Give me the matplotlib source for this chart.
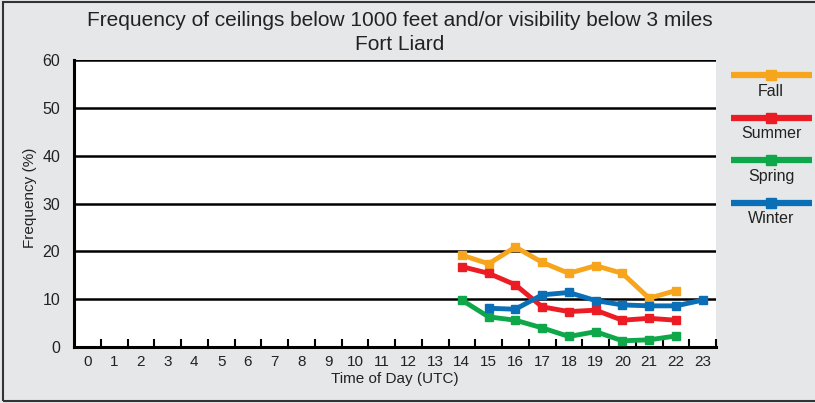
import numpy as np
import matplotlib.pyplot as plt
from matplotlib.patches import Rectangle
from matplotlib.lines import Line2D

hours = list(range(24))
hours_main = list(range(14, 23))
fall = [19.2, 17.4, 20.9, 17.7, 15.4, 17.0, 15.4, 10.2, 11.8]
summer = [16.8, 15.4, 13.0, 8.4, 7.4, 7.7, 5.6, 6.0, 5.6]
spring = [9.8, 6.3, 5.6, 4.0, 2.2, 3.2, 1.3, 1.5, 2.3]
hours_winter = list(range(15, 24))
winter = [8.1, 7.9, 10.9, 11.4, 9.7, 8.8, 8.6, 8.6, 9.8]

series = [
    ("Fall", hours_main, fall, "#f7a51c"),
    ("Summer", hours_main, summer, "#ec1c24"),
    ("Spring", hours_main, spring, "#0ea84a"),
    ("Winter", hours_winter, winter, "#0b6fb8"),
]

plt.rcParams['font.family'] = ['Liberation Sans', 'DejaVu Sans']

W, H = 815, 403
fig = plt.figure(figsize=(W / 100, H / 100), dpi=100)
fig.patch.set_facecolor("#e6e7e8")
fig.patches.append(Rectangle((3 / W, 1 - 401 / H), 1, 399 / H, transform=fig.transFigure,
                             fill=False, edgecolor="#333333", lw=1.5))

ax = fig.add_axes([74 / W, 1 - 347 / H, (716 - 74) / W, (347 - 60) / H])
ax.set_facecolor("white")

for name, xs, ys, col in series:
    ax.plot(xs, ys, color=col, lw=3.5, marker="s", ms=6, solid_joinstyle="miter", zorder=3)

ax.set_xlim(-0.5, 23.5)
ax.set_ylim(0, 60)
ax.set_yticks(range(0, 61, 10))
for v in range(10, 61, 10):
    ax.axhline(v, color="black", lw=1.8, zorder=1)
ax.set_xticks(np.arange(0.5, 24, 1.0))
ax.set_xticklabels([])
ax.set_xticks(hours, minor=True)
ax.set_xticklabels([str(h) for h in hours], minor=True, fontsize=11, color="#222222")
ax.tick_params(axis="x", which="major", direction="in", length=6, width=1.5, color="black")
ax.tick_params(axis="x", which="minor", length=0, pad=6)
ax.tick_params(axis="y", length=0, labelsize=11.5, labelcolor="#222222", pad=10)
for s in ["top", "right"]:
    ax.spines[s].set_visible(False)
for s in ["left", "bottom"]:
    ax.spines[s].set_linewidth(2.2)
ax.set_xlabel("Time of Day (UTC)", fontsize=11, color="#222222", labelpad=2)
ax.set_ylabel("Frequency (%)", fontsize=11, color="#222222")
ax.yaxis.set_label_coords(-0.057, 0.52)

fig.text(400 / W, 1 - 20 / H, "Frequency of ceilings below 1000 feet and/or visibility below 3 miles",
         ha="center", va="center", fontsize=15, color="#222222")
fig.text(400 / W, 1 - 45 / H, "Fort Liard", ha="center", va="center", fontsize=15, color="#222222")

# legend on the right
for i, (name, xs, ys, col) in enumerate(series):
    yl = 1 - (75 + i * 42.5) / H
    fig.add_artist(Line2D([731 / W, 812 / W], [yl, yl], transform=fig.transFigure,
                          color=col, lw=4.5, solid_capstyle="butt"))
    fig.add_artist(Line2D([771 / W], [yl], transform=fig.transFigure, color=col,
                          marker="s", ms=7, lw=0))
    fig.text(771 / W, yl - 16 / H, name, ha="center", va="center", fontsize=11.5, color="#222222")

fig.savefig("out.png", dpi=100, facecolor=fig.get_facecolor())
